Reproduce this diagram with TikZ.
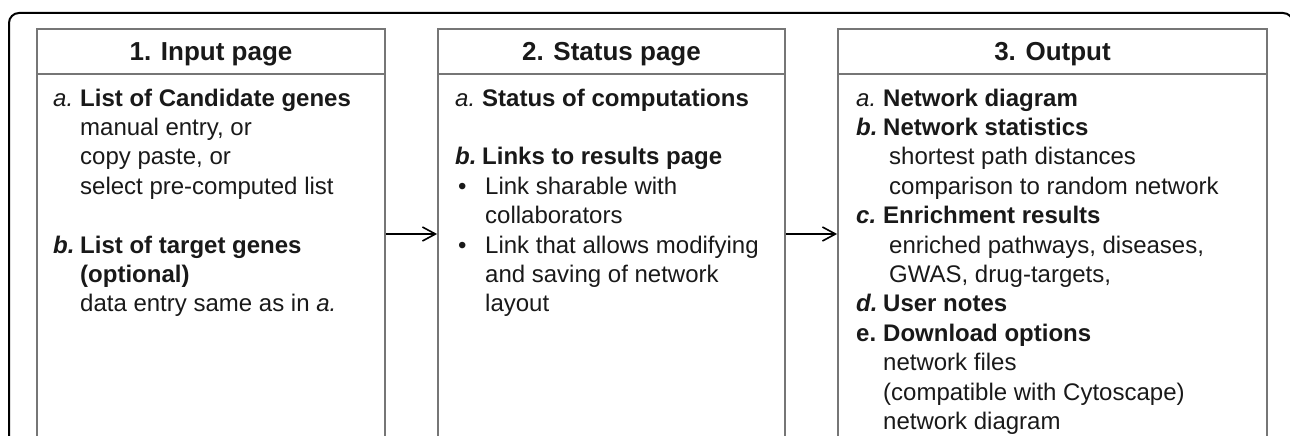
\documentclass[tikz,border=0pt]{standalone}
\usepackage{fontspec}
\setmainfont{Liberation Sans}
\usetikzlibrary{arrows.meta}
\definecolor{boxgray}{RGB}{118,118,118}
\definecolor{ink}{RGB}{25,25,25}
\newcommand\itemlbl[1]{\makebox[27pt][l]{#1}}
\begin{document}
\begin{tikzpicture}[x=1pt,y=-1pt,
  pagebox/.style={draw=boxgray, line width=1.8pt, rectangle, inner sep=0pt, minimum height=410pt},
  sepline/.style={draw=boxgray, line width=1.8pt},
  head/.style={font=\fontsize{26}{30}\selectfont\bfseries, text=ink, anchor=base, inner sep=0pt},
  txt/.style={font=\fontsize{24}{29}\selectfont, text=ink, anchor=base west, inner sep=0pt},
  arr/.style={draw=black, line width=1.6pt, -{Straight Barb[length=13pt,width=14pt,line width=1.6pt]}},
  frame/.style={draw=black, line width=2pt, rounded corners=10pt}]
\useasboundingbox (0,0) rectangle (1290,436);
\clip (0,0) rectangle (1290,436);
% outer frame
\draw[frame] (9,450) -- (9,13) -- (1293,13) -- (1293,450);
% boxes
\node[pagebox, minimum width=348pt] (box1) at (211,234) {};
\node[pagebox, minimum width=347pt] (box2) at (611.5,234) {};
\node[pagebox, minimum width=429pt] (box3) at (1052.5,234) {};
\draw[sepline] (box1.west |- 0,74) -- (box1.east |- 0,74);
\draw[sepline] (box2.west |- 0,74) -- (box2.east |- 0,74);
\draw[sepline] (box3.west |- 0,74) -- (box3.east |- 0,74);
% headers
\node[head] (h1) at (211,60) {1. Input page};
\node[head] (h2) at (611.5,60) {2. Status page};
\node[head] (h3) at (1052.5,60) {3. Output};
% arrows
\draw[arr] (box1.east) -- (box2.west);
\draw[arr] (box2.east) -- (box3.west);
% box 1
\node[txt] (p1a) at (53,106) {\itemlbl{\textit{a.}}\textbf{List of Candidate genes}};
\node[txt] (p1a1) at (80,135.4) {manual entry, or};
\node[txt] (p1a2) at (80,164.8) {copy paste, or};
\node[txt] (p1a3) at (80,194.2) {select pre-computed list};
\node[txt] (p1b) at (53,253) {\itemlbl{\textbf{\textit{b.}}}\textbf{List of target genes}};
\node[txt] (p1b1) at (80,282.4) {\textbf{(optional)}};
\node[txt] (p1b2) at (80,311.8) {data entry same as in \textit{a.}};
% box 2
\node[txt] (p2a) at (455,106) {\itemlbl{\textit{a.}}\textbf{Status of computations}};
\node[txt] (p2b) at (455,164.8) {\itemlbl{\textbf{\textit{b.}}}\textbf{Links to results page}};
\node[txt] (p2b1) at (458,194.2) {\itemlbl{•}Link sharable with};
\node[txt] (p2b2) at (485,223.6) {collaborators};
\node[txt] (p2b3) at (458,253) {\itemlbl{•}Link that allows modifying};
\node[txt] (p2b4) at (485,282.4) {and saving of network};
\node[txt] (p2b5) at (485,311.8) {layout};
% box 3
\node[txt] (p3a) at (856,106) {\itemlbl{\textit{a.}}\textbf{Network diagram}};
\node[txt] (p3b) at (856,135.4) {\itemlbl{\textbf{\textit{b.}}}\textbf{Network statistics}};
\node[txt] (p3b1) at (889,164.8) {shortest path distances};
\node[txt] (p3b2) at (889,194.2) {comparison to random network};
\node[txt] (p3c) at (856,223.6) {\itemlbl{\textbf{\textit{c.}}}\textbf{Enrichment results}};
\node[txt] (p3c1) at (889,253) {enriched pathways, diseases,};
\node[txt] (p3c2) at (889,282.4) {GWAS, drug-targets,};
\node[txt] (p3d) at (856,311.8) {\itemlbl{\textbf{\textit{d.}}}\textbf{User notes}};
\node[txt] (p3e) at (856,341.2) {\itemlbl{\textbf{e.}}\textbf{Download options}};
\node[txt] (p3e1) at (883,370.6) {network files};
\node[txt] (p3e2) at (883,400) {(compatible with Cytoscape)};
\node[txt] (p3e3) at (883,429.4) {network diagram};
\end{tikzpicture}
\end{document}
